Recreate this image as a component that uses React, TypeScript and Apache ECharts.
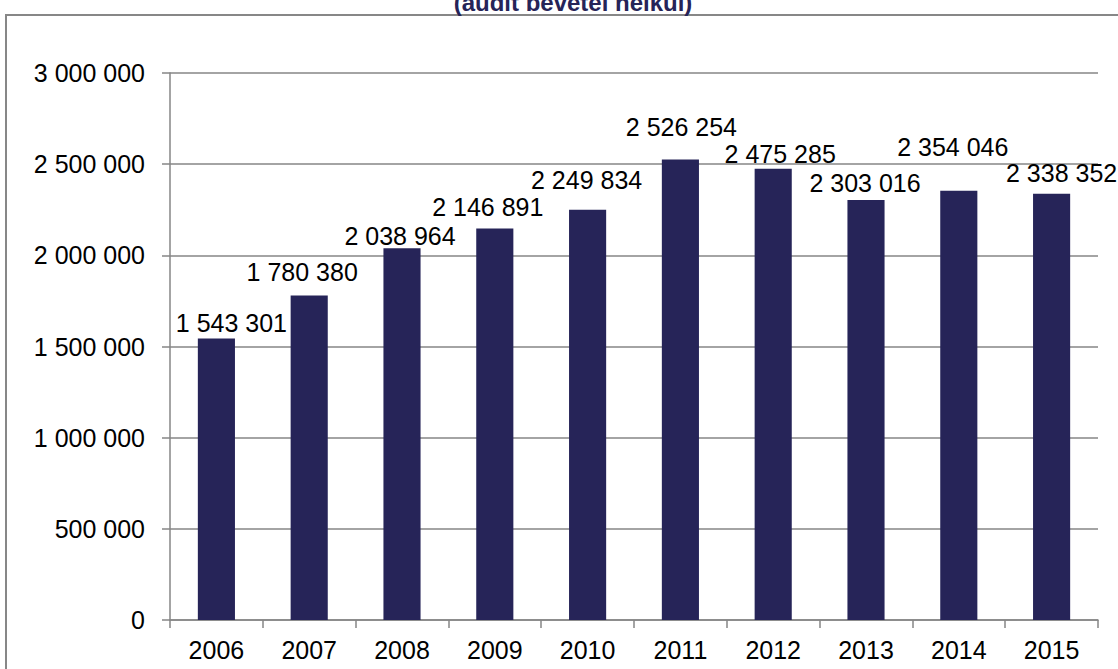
import React, { useEffect, useRef } from "react";
import * as echarts from "echarts";

const years = ["2006", "2007", "2008", "2009", "2010", "2011", "2012", "2013", "2014", "2015"];
const values = [1543301, 1780380, 2038964, 2146891, 2249834, 2526254, 2475285, 2303016, 2354046, 2338352];
const yTicks = { min: 0, max: 3000000, interval: 500000 };
const titleText = "(audit bevétel nélkül)";
// label nudges (dx, dy) in pixels, to mimic the reference's label placement
const labelNudges: [number, number][] = [
  [15, -3], [-7, -11], [-2, 0], [-7, -9], [-1, -17],
  [1, -20], [7, -2], [-1, -5], [-6, -31], [10, -8],
];

const fmt = (v: number) => String(Math.round(v)).replace(/\B(?=(\d{3})+(?!\d))/g, " ");

export default function App() {
  const ref = useRef<HTMLDivElement>(null);
  useEffect(() => {
    if (!ref.current) return;
    const chart = echarts.init(ref.current, undefined, { renderer: "svg" });
    const font = "'Liberation Sans', Arial, sans-serif";
    chart.setOption({
      animation: false,
      backgroundColor: "#ffffff",
      textStyle: { fontFamily: font },
      grid: { left: 170, right: 20, top: 73, bottom: 49, containLabel: false },
      graphic: [
        {
          type: "rect",
          shape: { x: 6, y: 15, width: 1300, height: 800 },
          style: { fill: "none", stroke: "#878787", lineWidth: 2 },
          silent: true,
        },
        {
          type: "text",
          x: 573,
          y: 2,
          style: {
            text: titleText,
            fill: "#262458",
            font: `bold 24px ${font}`,
            textAlign: "center",
            textVerticalAlign: "middle",
          },
        },
      ],
      xAxis: {
        type: "category",
        data: years,
        axisLine: { lineStyle: { color: "#868686", width: 1.5 } },
        axisTick: { show: true, length: 8, lineStyle: { color: "#868686", width: 1.5 } },
        axisLabel: { color: "#000", fontSize: 25, margin: 17, fontFamily: font },
      },
      yAxis: {
        type: "value",
        min: yTicks.min,
        max: yTicks.max,
        interval: yTicks.interval,
        axisLine: { show: true, lineStyle: { color: "#868686", width: 1.5 } },
        axisTick: { show: true, length: 8, lineStyle: { color: "#868686", width: 1.5 } },
        splitLine: { show: true, lineStyle: { color: "#868686", width: 1.5 } },
        axisLabel: { color: "#000", fontSize: 25, margin: 25, fontFamily: font, formatter: (v: number) => fmt(v) },
      },
      series: [
        {
          type: "bar",
          barWidth: "40%",
          itemStyle: { color: "#262458" },
          data: values.map((v, i) => ({
            value: v,
            label: { offset: labelNudges[i] },
          })),
          label: {
            show: true,
            position: "top",
            distance: 0,
            color: "#000",
            fontSize: 25,
            fontFamily: font,
            formatter: (p: any) => fmt(p.value),
          },
        },
      ],
    });
    return () => chart.dispose();
  }, []);
  return <div ref={ref} style={{ position: "fixed", left: 0, top: 0, width: 1118, height: 669 }} />;
}
